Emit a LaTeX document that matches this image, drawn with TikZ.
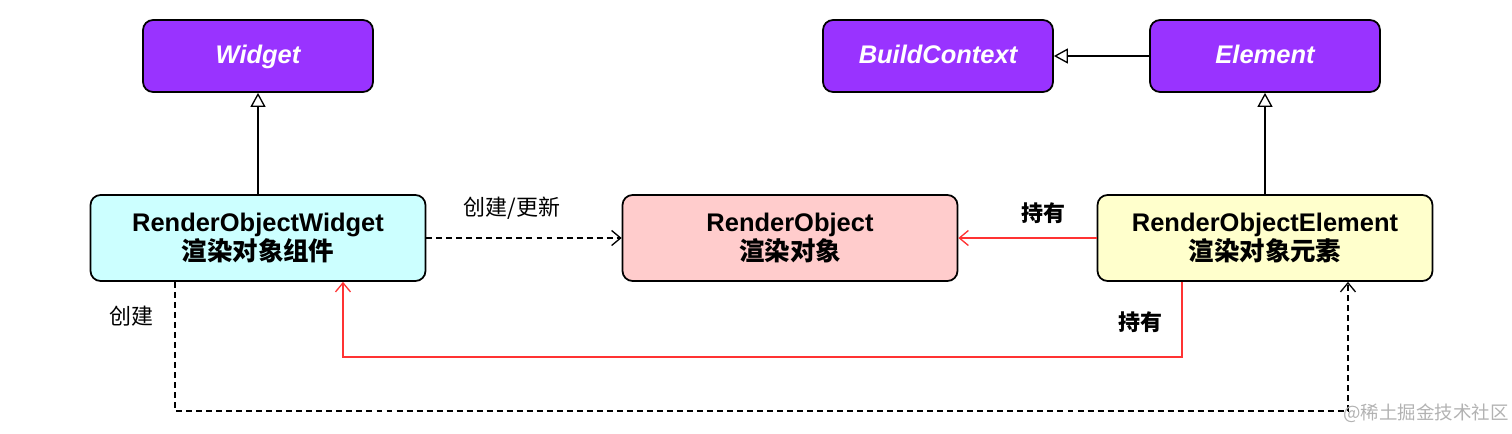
\documentclass[tikz,border=0pt]{standalone}
\usepackage{fontspec}
\setmainfont{Liberation Sans}
\newfontfamily\cjk{Noto Sans CJK SC}
\usepackage{tikz}
\usetikzlibrary{arrows.meta}

\definecolor{basepurple}{HTML}{9933FF}
\definecolor{widgetfill}{HTML}{CCFFFF}
\definecolor{objectfill}{HTML}{FFCCCC}
\definecolor{elementfill}{HTML}{FFFFCC}
\definecolor{holdred}{HTML}{FF3333}

\newcommand{\boxfont}{\fontsize{14.5}{17}\selectfont\bfseries}
\newcommand{\labelfont}{\fontsize{12.5}{14}\selectfont\cjk}

\begin{document}
\begin{tikzpicture}[x=0.02cm, y=-0.02cm,
    base/.style={rounded corners=0.2cm, draw=black, line width=1pt, minimum width=4.6cm, minimum height=1.44cm, fill=basepurple, text=white, text height=1.1em, text depth=0.2em, font=\boxfont\itshape},
    impl/.style={rounded corners=0.2cm, draw=black, line width=1pt, minimum width=6.7cm, minimum height=1.72cm, align=center, font=\boxfont},
    inherit/.style={-{Triangle[open, length=0.28cm, width=0.3cm]}, line width=0.75pt},
    create/.style={-{Straight Barb[length=0.18cm, width=0.3cm]}, line width=0.75pt, dash pattern=on 3.4pt off 2.3pt},
    hold/.style={-{Straight Barb[length=0.18cm, width=0.3cm]}, line width=0.75pt, draw=holdred}]
    \useasboundingbox (0,0) rectangle (1512,433);

    \node[base] at (258,56) (widget) {Widget};
    \node[base] at (938,56) (context) {BuildContext};
    \node[base] at (1265,56) (element) {Element};
    \node[impl, fill=widgetfill] at (258,238) (row) {RenderObjectWidget\\{\cjk 渲染对象组件}};
    \node[impl, fill=objectfill] at (790,238) (ro) {RenderObject\\{\cjk 渲染对象}};
    \node[impl, fill=elementfill] at (1265,238) (roe) {RenderObjectElement\\{\cjk 渲染对象元素}};

    \draw[inherit] (row) -- (widget);
    \draw[inherit] (element) -- (context);
    \draw[inherit] (roe) -- (element);
    \draw[create] (row) -- (ro);
    \draw[hold] (roe) -- (ro);
    \draw[hold] ([xshift=-1.66cm]roe.south) -- ++(0,75) -| ([xshift=1.7cm]row.south);
    \draw[create] ([xshift=-1.66cm]row.south) -- ++(0,129) -| ([xshift=1.66cm]roe.south);

    \node[font=\labelfont] at (512,208) (updatelabel) {创建/更新};
    \node[font=\labelfont\bfseries] at (1043,213) (holdlabel) {持有};
    \node[font=\labelfont\bfseries] at (1140,322) (holdlabelb) {持有};
    \node[font=\labelfont] at (131,316) (createlabel) {创建};
    \node[font=\fontsize{10.5}{12}\selectfont\cjk, text=black!30] at (1426,413) (mark) {@稀土掘金技术社区};
\end{tikzpicture}
\end{document}
